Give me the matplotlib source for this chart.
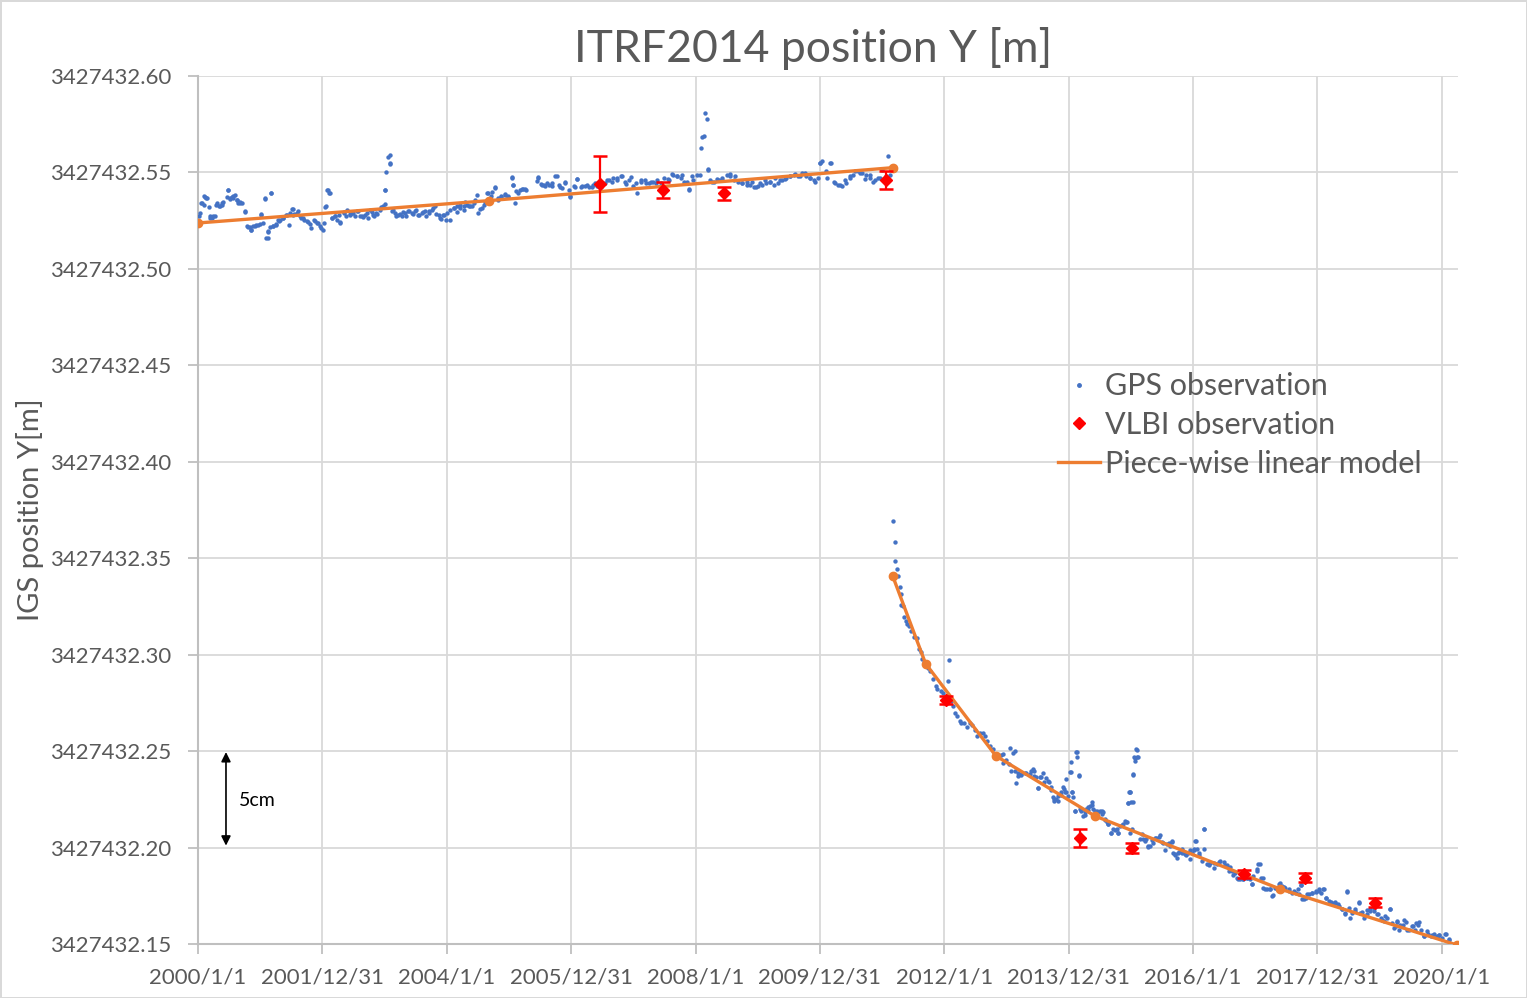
import matplotlib
matplotlib.use("Agg")
import matplotlib.pyplot as plt
from matplotlib.ticker import FormatStrFormatter
from matplotlib.lines import Line2D

plt.rcParams['font.family'] = ['Lato', 'DejaVu Sans']

BASE = 3427432.0  # metres; the series below are in mm above this

# GPS daily/weekly solutions (decimal year, mm) - before the 2011 earthquake
gps_year_a = [
    2000.01, 2000.03, 2000.06, 2000.09, 2000.11, 2000.14, 2000.17, 2000.19, 2000.22, 2000.27,
    2000.30, 2000.33, 2000.38, 2000.41, 2000.46, 2000.49, 2000.51, 2000.54, 2000.57, 2000.60,
    2000.62, 2000.65, 2000.68, 2000.70, 2000.76, 2000.78, 2000.83, 2000.86, 2000.89, 2000.94,
    2001.00, 2001.02, 2001.05, 2001.08, 2001.12, 2001.13, 2001.16, 2001.17, 2001.21, 2001.25,
    2001.29, 2001.32, 2001.37, 2001.43, 2001.48, 2001.51, 2001.53, 2001.59, 2001.64, 2001.69,
    2001.75, 2001.80, 2001.86, 2001.91, 2001.96, 2002.01, 2002.03, 2002.06, 2002.07, 2002.10,
    2002.15, 2002.20, 2002.26, 2002.28, 2002.34, 2002.39, 2002.45, 2002.50, 2002.55, 2002.61,
    2002.66, 2002.71, 2002.77, 2002.82, 2002.87, 2002.93, 2002.97, 2003.00, 2003.01, 2003.02,
    2003.05, 2003.08, 2003.09, 2003.12, 2003.17, 2003.22, 2003.28, 2003.33, 2003.38, 2003.44,
    2003.49, 2003.54, 2003.60, 2003.65, 2003.71, 2003.76, 2003.81, 2003.87, 2003.90, 2003.95,
    2004.00, 2004.05, 2004.11, 2004.16, 2004.21, 2004.27, 2004.29, 2004.35, 2004.40, 2004.46,
    2004.51, 2004.56, 2004.62, 2004.67, 2004.72, 2004.78, 2004.83, 2004.88, 2004.94, 2004.99,
    2005.05, 2005.06, 2005.10, 2005.15, 2005.21, 2005.26, 2005.45, 2005.47, 2005.53, 2005.58,
    2005.64, 2005.69, 2005.74, 2005.80, 2005.85, 2005.90, 2005.96, 2005.98, 2006.04, 2006.09,
    2006.16, 2006.22, 2006.29, 2006.35, 2006.42, 2006.48, 2006.54, 2006.61, 2006.67, 2006.74,
    2006.80, 2006.86, 2006.93, 2006.99, 2007.06, 2007.12, 2007.18, 2007.25, 2007.31, 2007.38,
    2007.44, 2007.50, 2007.57, 2007.63, 2007.70, 2007.76, 2007.82, 2007.89, 2007.95, 2008.02,
    2008.08, 2008.11, 2008.13, 2008.16, 2008.18, 2008.20, 2008.24, 2008.30, 2008.37, 2008.43,
    2008.50, 2008.56, 2008.62, 2008.69, 2008.75, 2008.82, 2008.88, 2008.94, 2009.01, 2009.07,
    2009.14, 2009.20, 2009.26, 2009.33, 2009.39, 2009.46, 2009.52, 2009.58, 2009.65, 2009.71,
    2009.78, 2009.84, 2009.90, 2009.97, 2010.00, 2010.03, 2010.10, 2010.16, 2010.22, 2010.29,
    2010.35, 2010.42, 2010.48, 2010.54, 2010.61, 2010.67, 2010.74, 2010.80, 2010.86, 2010.93,
    2011.00, 2011.06, 2011.09, 2011.12,
    # additional samples
    2000.05, 2000.10, 2000.13, 2000.19, 2000.24, 2000.29, 2000.35, 2000.39, 2000.48, 2000.51,
    2000.56, 2000.62, 2000.67, 2000.75, 2000.80, 2000.86, 2000.91, 2000.96, 2001.01, 2001.07,
    2001.10, 2001.13, 2001.17, 2001.21, 2001.26, 2001.31, 2001.37, 2001.42, 2001.47, 2001.52,
    2001.55, 2001.61, 2001.66, 2001.71, 2001.77, 2001.81, 2001.88, 2001.93, 2001.97, 2002.05,
    2002.09, 2002.12, 2002.15, 2002.20, 2002.24, 2002.29, 2002.35, 2002.38, 2002.44, 2002.48,
    2002.52, 2002.57, 2002.63, 2002.68, 2002.73, 2002.79, 2002.83, 2002.88, 2002.94, 2003.00,
    2003.08, 2003.14, 2003.19, 2003.24, 2003.30, 2003.35, 2003.40, 2003.46, 2003.51, 2003.56,
    2003.62, 2003.67, 2003.72, 2003.78, 2003.83, 2003.89, 2003.94, 2003.99, 2004.06, 2004.12,
    2004.17, 2004.22, 2004.28, 2004.33, 2004.38, 2004.44, 2004.49, 2004.54, 2004.60, 2004.65,
    2004.71, 2004.77, 2004.82, 2004.88, 2004.93, 2004.98, 2005.05, 2005.06, 2005.12, 2005.17,
    2005.23, 2005.28, 2005.47, 2005.52, 2005.57,
    2005.61, 2005.69, 2005.77, 2005.82, 2005.90, 2005.98, 2006.06, 2006.09, 2006.17, 2006.25,
    2006.33, 2006.38, 2006.57, 2006.65, 2006.73, 2006.82, 2006.89, 2006.97, 2007.05, 2007.13,
    2007.21, 2007.29, 2007.37, 2007.56, 2007.62, 2007.70, 2007.78, 2007.86, 2007.89, 2007.96,
    2008.07, 2008.20, 2008.26, 2008.34, 2008.42, 2008.55, 2008.63, 2008.74, 2008.82, 2008.90,
    2008.97, 2009.04, 2009.12, 2009.20, 2009.28, 2009.36, 2009.44, 2009.52, 2009.60, 2009.68,
    2009.76, 2009.84, 2009.92, 2010.00, 2010.18, 2010.11, 2010.24, 2010.32, 2010.40, 2010.48,
    2010.56, 2010.64, 2010.72, 2010.80, 2010.88, 2010.96,
]
gps_mm_a = [
    527.2, 528.9, 534.1, 533.2, 537.5, 536.7, 532.0, 527.2, 526.3, 527.5,
    534.1, 532.7, 533.2, 534.9, 537.2, 540.7, 536.7, 537.5, 536.7, 538.4,
    535.8, 534.4, 534.9, 534.1, 529.6, 522.3, 521.6, 520.2, 522.3, 522.8,
    523.4, 528.0, 524.0, 536.5, 515.9, 518.9, 521.6, 539.6, 522.0, 522.8,
    525.4, 525.4, 526.3, 528.0, 528.9, 531.0, 528.0, 528.9, 527.2, 526.3,
    524.6, 523.4, 525.4, 524.0, 522.3, 520.2, 523.7, 532.4, 541.0, 539.3,
    526.3, 527.2, 528.0, 524.0, 528.9, 530.3, 528.0, 528.9, 529.8, 527.5,
    526.8, 528.9, 530.6, 528.0, 528.9, 530.6, 532.4, 533.7, 540.7, 550.0,
    558.0, 559.2, 554.8, 529.8, 528.9, 528.0, 527.5, 528.9, 529.8, 528.9,
    529.8, 528.0, 528.9, 529.8, 528.9, 530.3, 532.4, 528.0, 526.0, 528.0,
    528.9, 530.6, 531.5, 532.4, 533.2, 532.4, 534.9, 532.7, 532.4, 535.8,
    528.9, 531.5, 534.9, 539.6, 540.1, 542.4, 535.8, 537.5, 538.4, 537.5,
    547.6, 543.6, 534.4, 539.3, 541.3, 541.3, 545.8, 547.6, 543.6, 543.1,
    543.6, 543.1, 548.3, 543.6, 541.9, 544.8, 541.0, 537.5, 543.1, 546.5,
    542.4, 543.1, 542.4, 543.6, 543.1, 542.4, 544.5, 546.2, 547.1, 546.2,
    547.9, 545.3, 546.2, 543.1, 539.6, 545.3, 546.2, 544.5, 545.3, 546.2,
    544.5, 547.1, 546.2, 548.8, 547.9, 547.1, 545.3, 541.0, 547.9, 548.8,
    562.6, 568.3, 568.7, 580.8, 577.9, 551.4, 546.2, 545.3, 546.2, 547.1,
    548.8, 547.9, 546.2, 545.3, 544.5, 545.3, 543.6, 542.4, 543.1, 543.6,
    544.5, 545.3, 543.6, 544.5, 546.2, 547.1, 547.9, 548.8, 547.9, 549.7,
    547.9, 547.1, 546.2, 547.1, 554.8, 555.7, 550.5, 554.8, 545.3, 543.6,
    543.1, 544.5, 547.1, 548.8, 550.5, 549.7, 548.8, 547.1, 545.3, 547.1,
    551.4, 547.9, 558.3, 548.8,
    # additional samples
    534.1, 537.6, 536.7, 526.3, 527.2, 533.2, 532.4, 534.1, 540.7, 536.2,
    537.6, 535.8, 534.4, 529.8, 521.7, 520.3, 522.4, 522.9, 528.6, 536.2,
    516.0, 519.4, 539.6, 522.4, 523.4, 524.6, 526.3, 528.1, 522.9, 531.0,
    528.6, 529.8, 526.3, 525.5, 524.1, 521.1, 524.6, 523.7, 521.1, 532.0,
    541.0, 539.3, 526.3, 527.5, 525.5, 524.1, 529.3, 527.2, 528.6, 528.9,
    527.5, 529.8, 527.2, 528.1, 526.3, 529.3, 527.2, 528.6, 532.0, 540.7,
    554.5, 530.6, 527.2, 528.6, 529.3, 527.2, 529.8, 528.6, 530.6, 528.1,
    529.3, 527.2, 529.8, 531.5, 528.6, 526.3, 528.1, 525.5, 525.1, 531.5,
    529.3, 531.5, 530.3, 533.2, 532.4, 534.1, 538.4, 531.0, 533.2, 539.6,
    537.6, 541.9, 536.7, 537.6, 538.9, 537.6, 547.2, 543.6, 540.2, 541.0,
    541.4, 541.0, 547.1, 544.1, 543.6,
    544.5, 544.5, 548.3, 542.7, 544.5, 537.6, 542.7, 546.5, 543.1, 543.6,
    542.7, 544.5, 546.2, 545.3, 547.1, 548.3, 544.1, 547.6, 544.5, 545.9,
    544.5, 545.3, 544.5, 546.5, 549.3, 547.9, 548.8, 545.3, 541.4, 546.2,
    548.8, 551.7, 545.3, 546.5, 545.9, 549.3, 547.9, 544.5, 543.6, 544.8,
    542.4, 544.5, 545.9, 545.3, 547.1, 546.2, 546.5, 547.9, 549.3, 548.3,
    549.7, 547.1, 545.3, 554.8, 554.8, 547.1, 544.5, 543.6, 546.2, 547.9,
    550.5, 549.7, 546.5, 548.8, 546.2, 547.1,
]

# GPS solutions after the 2011 earthquake
gps_year_b = [
    2011.18, 2011.20, 2011.21, 2011.24, 2011.26, 2011.29, 2011.30, 2011.31, 2011.33, 2011.36,
    2011.39, 2011.40, 2011.43, 2011.47, 2011.52, 2011.56, 2011.59, 2011.62, 2011.64, 2011.68,
    2011.73, 2011.77, 2011.82, 2011.86, 2011.88, 2011.94, 2011.98, 2012.06, 2012.08, 2012.10,
    2012.14, 2012.18, 2012.20, 2012.25, 2012.27, 2012.32, 2012.36, 2012.41, 2012.44, 2012.50,
    2012.53, 2012.58, 2012.63, 2012.66, 2012.68, 2012.74, 2012.78, 2012.83, 2012.87, 2012.91,
    2012.95, 2013.00, 2013.05, 2013.08, 2013.11, 2013.14, 2013.16, 2013.19, 2013.24, 2013.30,
    2013.38, 2013.43, 2013.44, 2013.48, 2013.51, 2013.54, 2013.59, 2013.64,
    2013.69, 2013.72, 2013.75, 2013.77, 2013.80, 2013.83, 2013.88, 2013.91, 2013.94, 2013.96,
    2013.99, 2014.02, 2014.04, 2014.06, 2014.07, 2014.10, 2014.11, 2014.13, 2014.16, 2014.18,
    2014.20, 2014.23, 2014.26, 2014.28, 2014.31, 2014.34, 2014.37, 2014.39, 2014.45, 2014.50,
    2014.53, 2014.55, 2014.58, 2014.61, 2014.63, 2014.68, 2014.72, 2014.77, 2014.80, 2014.82,
    2014.88, 2014.90, 2014.93, 2014.96, 2014.97, 2014.98, 2014.99, 2015.01, 2015.02, 2015.04,
    2015.05, 2015.06, 2015.08, 2015.10, 2015.15, 2015.20, 2015.25, 2015.28, 2015.31, 2015.36,
    2015.41, 2015.47, 2015.52, 2015.58, 2015.63, 2015.66, 2015.68, 2015.71, 2015.74, 2015.76,
    2015.82, 2015.87, 2015.92, 2015.95, 2015.98, 2016.01, 2016.03, 2016.06, 2016.09, 2016.14,
    2016.17, 2016.18, 2016.22, 2016.27, 2016.33, 2016.38, 2016.44, 2016.49, 2016.54, 2016.57,
    2016.62, 2016.65, 2016.70, 2016.76, 2016.81, 2016.87, 2016.92, 2016.95, 2016.97, 2017.03,
    2017.05, 2017.09, 2017.13, 2017.19, 2017.24, 2017.27, 2017.32, 2017.38, 2017.43, 2017.48,
    2017.54, 2017.59, 2017.65, 2017.70, 2017.73, 2017.75, 2017.81, 2017.86, 2017.91, 2017.97,
    2018.02, 2018.05, 2018.09, 2018.13, 2018.18, 2018.24, 2018.29, 2018.34, 2018.40, 2018.45,
    2018.48, 2018.51, 2018.56, 2018.61, 2018.67, 2018.69, 2018.75, 2018.80, 2018.85, 2018.91,
    2018.96, 2019.02, 2019.07, 2019.12, 2019.17, 2019.20, 2019.26, 2019.28, 2019.31, 2019.37,
    2019.42, 2019.47, 2019.53, 2019.58, 2019.61, 2019.66, 2019.72, 2019.77, 2019.82, 2019.88,
    2019.93, 2019.96, 2020.01, 2020.06, 2020.12,
    # additional samples
    2012.94, 2013.04, 2013.13, 2013.18, 2013.24, 2013.32, 2013.40, 2013.45, 2013.50, 2013.56,
    2013.61, 2013.67, 2013.72, 2013.77, 2013.83, 2013.88, 2013.92, 2013.96, 2014.03, 2014.06,
    2014.10, 2014.13, 2014.16, 2014.20, 2014.26, 2014.31, 2014.37, 2014.42, 2014.47, 2014.53,
    2014.58, 2014.64, 2014.68, 2014.74, 2014.80, 2014.85, 2014.92, 2014.96, 2014.99, 2015.03,
    2015.04, 2015.07, 2015.10, 2015.12, 2015.18, 2015.23, 2015.28, 2015.34, 2015.39, 2015.45,
    2015.50, 2015.55, 2015.61, 2015.66, 2015.71, 2015.77, 2015.82, 2015.88, 2015.95, 2016.01,
    2016.05, 2016.10, 2016.17, 2016.25, 2016.33, 2016.42, 2016.51, 2016.60,
    2016.67, 2016.72, 2016.80, 2016.87, 2016.95, 2017.03, 2017.08, 2017.12, 2017.15, 2017.23,
    2017.28, 2017.35, 2017.39, 2017.47, 2017.55, 2017.63, 2017.68, 2017.74, 2017.79, 2017.84,
    2017.92, 2017.97, 2018.03, 2018.10, 2018.13, 2018.21, 2018.28, 2018.33, 2018.40, 2018.45,
    2018.48, 2018.53, 2018.60, 2018.67, 2018.72, 2018.80, 2018.85, 2018.91, 2018.97, 2019.04,
    2019.09, 2019.17, 2019.23, 2019.28, 2019.33, 2019.39, 2019.44, 2019.52, 2019.57, 2019.63,
    2019.71, 2019.76, 2019.84, 2019.92, 2019.96, 2020.05, 2020.11,
]
gps_mm_b = [
    369.2, 358.5, 348.6, 344.3, 340.8, 335.3, 331.3, 325.6, 325.3, 319.7,
    317.5, 315.7, 314.9, 312.3, 309.3, 308.8, 302.8, 301.4, 297.6, 295.9,
    293.3, 291.5, 287.2, 283.7, 282.0, 281.1, 280.3, 286.3, 297.1, 276.0,
    273.4, 269.9, 268.2, 265.6, 264.4, 264.7, 262.6, 264.7, 263.3, 261.2,
    257.8, 259.5, 259.2, 257.8, 255.2, 252.6, 251.2, 248.3, 247.4, 247.8,
    243.9, 245.6, 251.7, 239.6, 249.1, 250.0, 233.6, 237.0, 237.9, 238.8,
    237.9, 240.8, 239.6, 236.7, 231.0, 236.7, 238.8, 236.2,
    233.9, 231.3, 226.0, 224.3, 225.2, 226.9, 228.6, 231.3, 228.6, 235.6,
    226.9, 239.4, 244.3, 228.6, 226.0, 219.1, 249.5, 246.9, 237.7, 220.0,
    219.1, 216.5, 218.2, 220.0, 220.8, 221.7, 223.4, 220.0, 219.1, 219.1,
    219.1, 218.2, 214.8, 213.0, 212.2, 207.8, 209.6, 209.6, 207.8, 211.3,
    212.2, 213.9, 213.4, 223.1, 229.0, 229.0, 207.8, 223.8, 209.6, 238.2,
    246.9, 245.1, 250.9, 247.2, 204.3, 204.3, 204.3, 200.9, 200.9, 202.6,
    205.2, 206.4, 202.6, 201.7, 200.9, 203.5, 197.4, 196.5, 194.8, 197.4,
    199.1, 196.5, 197.4, 193.9, 197.1, 199.1, 203.5, 199.5, 197.4, 193.1,
    199.5, 209.6, 191.3, 192.2, 189.6, 191.3, 193.1, 192.5, 190.8, 187.9,
    187.9, 185.6, 184.4, 183.5, 183.9, 184.4, 183.5, 180.9, 185.2, 187.9,
    191.3, 184.4, 179.2, 178.3, 178.3, 174.8, 179.2, 180.9, 180.0, 179.2,
    177.4, 176.6, 176.6, 175.7, 180.4, 173.1, 174.0, 175.7, 176.6, 177.4,
    178.3, 176.6, 178.6, 174.0, 172.2, 171.4, 171.4, 169.6, 167.9, 166.2,
    177.1, 168.8, 166.2, 167.0, 171.4, 166.2, 163.5, 165.3, 167.9, 167.0,
    165.3, 163.5, 161.8, 163.5, 167.9, 160.9, 159.2, 161.8, 157.5, 160.1,
    161.3, 157.5, 159.2, 160.9, 160.1, 157.5, 154.0, 155.4, 154.0, 155.4,
    154.0, 154.9, 153.1, 155.4, 152.3,
    # additional samples
    248.3, 243.1, 239.6, 238.7, 237.8, 238.7, 239.6, 237.0, 230.9, 236.6,
    233.9, 234.4, 230.0, 225.2, 224.0, 227.4, 230.4, 228.6, 239.1, 228.6,
    218.8, 249.5, 237.3, 219.3, 217.0, 219.6, 222.2, 218.8, 218.2, 217.5,
    214.4, 212.3, 207.8, 209.2, 207.8, 211.8, 213.5, 223.1, 228.6, 223.4,
    237.8, 246.5, 250.5, 247.0, 207.1, 203.6, 200.2, 204.0, 204.9, 205.7,
    203.1, 198.8, 202.3, 203.1, 196.2, 197.9, 197.0, 196.2, 198.8, 198.8,
    203.6, 196.2, 209.5, 191.0, 191.8, 192.7, 191.0, 190.1,
    186.6, 183.5, 183.9, 184.4, 180.9, 188.7, 191.3, 184.4, 178.6, 178.6,
    175.2, 178.6, 181.4, 179.7, 178.3, 177.4, 178.3, 180.4, 173.4, 175.7,
    176.6, 176.9, 177.4, 178.6, 174.0, 171.7, 171.7, 170.5, 168.2, 165.3,
    177.4, 163.5, 167.9, 171.7, 166.5, 167.5, 167.0, 168.8, 165.3, 162.7,
    164.4, 167.9, 158.3, 161.3, 160.1, 162.3, 157.5, 159.2, 157.5, 161.3,
    154.3, 156.6, 154.9, 153.6, 154.9, 155.4, 152.6,
]

# VLBI sessions (decimal year, mm, 1-sigma mm)
vlbi_year = [2006.46, 2007.47, 2008.46, 2011.07, 2012.03, 2014.19, 2015.02, 2016.82, 2017.80, 2018.92]
vlbi_mm = [544.0, 540.9, 539.2, 546.1, 276.5, 205.1, 200.0, 186.3, 184.4, 171.4]
vlbi_err = [14.5, 3.9, 3.5, 4.5, 2.2, 4.6, 2.6, 2.2, 2.3, 2.2]

# piece-wise linear model, before and after the 2011 earthquake
model_year_a = [2000.0, 2004.68, 2011.18]
model_mm_a = [523.8, 535.4, 552.5]
model_year_b = [2011.17, 2011.70, 2012.83, 2014.42, 2017.40, 2020.24]
model_mm_b = [340.8, 295.3, 247.5, 216.4, 178.5, 149.5]

tick_years = [2000, 2002, 2004, 2006, 2008, 2010, 2012, 2014, 2016, 2018, 2020]
tick_labels = ['2000/1/1', '2001/12/31', '2004/1/1', '2005/12/31', '2008/1/1', '2009/12/31',
               '2012/1/1', '2013/12/31', '2016/1/1', '2017/12/31', '2020/1/1']


def to_m(vals):
    return [BASE + v / 1000.0 for v in vals]


fig = plt.figure(figsize=(15.27, 9.98), dpi=100)
fig.patch.set_edgecolor('#D9D9D9')
fig.patch.set_linewidth(2)
ax = fig.add_axes([198 / 1527, 1 - 944 / 998, 1260 / 1527, 868 / 998])

blue = '#4472C4'
orange = '#ED7D31'
grey_txt = '#595959'

ax.scatter(gps_year_a, to_m(gps_mm_a), s=10, color=blue, linewidths=0, zorder=3)
ax.scatter(gps_year_b, to_m(gps_mm_b), s=10, color=blue, linewidths=0, zorder=3)

ax.plot(model_year_a, to_m(model_mm_a), color=orange, lw=2.4, marker='o', ms=6, zorder=4)
ax.plot(model_year_b, to_m(model_mm_b), color=orange, lw=2.4, marker='o', ms=6, zorder=4)

ax.errorbar(vlbi_year, to_m(vlbi_mm), yerr=[e / 1000.0 for e in vlbi_err], fmt='D',
            color='red', ms=6.5, elinewidth=1.6, capsize=5, capthick=1.8, zorder=5)

ax.set_xlim(2000, 2020.26)
ax.set_ylim(BASE + 0.15, BASE + 0.60)
ax.set_xticks(tick_years)
ax.set_xticklabels(tick_labels)
ax.set_yticks([BASE + 0.15 + 0.05 * i for i in range(10)])
ax.yaxis.set_major_formatter(FormatStrFormatter('%.2f'))
ax.tick_params(axis='both', colors='#BFBFBF', labelcolor=grey_txt, labelsize=16,
               length=7, width=1.3)
ax.tick_params(axis='x', pad=10)
ax.tick_params(axis='y', pad=12.5)
ax.grid(True, color='#D9D9D9', lw=1.3, zorder=0)
ax.set_axisbelow(True)
for side in ['top', 'right']:
    ax.spines[side].set_visible(False)
for side in ['left', 'bottom']:
    ax.spines[side].set_color('#BFBFBF')
    ax.spines[side].set_linewidth(1.5)

ax.set_ylabel('IGS position Y[m]', fontsize=21, color=grey_txt)
ax.yaxis.set_label_coords((44 - 198) / 1260, 0.5)
fig.text(813 / 1527, 1 - 62 / 998, 'ITRF2014 position Y [m]', fontsize=32,
         color=grey_txt, ha='center', va='baseline')

# 5 cm scale arrow
ax.annotate('', xy=(2000.45, BASE + 0.201), xytext=(2000.45, BASE + 0.2495),
            arrowprops=dict(arrowstyle='<|-|>', color='black', lw=1.2,
                            mutation_scale=14, shrinkA=0, shrinkB=0))
ax.text(2000.66, BASE + 0.2245, '5cm', fontsize=14, color='black', va='center')

leg_handles = [
    Line2D([], [], ls='none', marker='o', ms=2.5, color=blue),
    Line2D([], [], ls='none', marker='D', ms=6.5, color='red'),
    Line2D([], [], color=orange, lw=2.4),
]
leg_labels = ['GPS observation', 'VLBI observation', 'Piece-wise linear model']
ax.legend(leg_handles, leg_labels, loc='upper left',
          bbox_to_anchor=(1043 / 1527, 1 - 357 / 998), bbox_transform=fig.transFigure,
          frameon=False, fontsize=22, labelcolor=grey_txt, borderpad=0,
          handlelength=1.35, handletextpad=0.17, labelspacing=0.35)

fig.savefig('out.png', dpi=100)
